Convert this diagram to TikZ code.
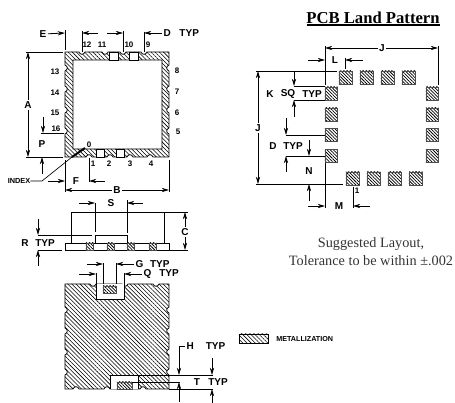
\documentclass[tikz,border=0pt]{standalone}
\usepackage{fontspec}
\setmainfont{Liberation Serif}
\setsansfont{Liberation Sans}
\usetikzlibrary{arrows.meta,patterns.meta}
\tikzset{
  outline/.style={draw=black,line width=0.6pt},
  metal/.style={outline,pattern={Lines[angle=-45,distance=2.2pt,line width=0.42pt]}},
  pad/.style={draw=black!70,line width=0.5pt,pattern={Lines[angle=-45,distance=1.7pt,line width=0.55pt]}},
  extline/.style={line width=0.5pt},
  dimline/.style={line width=0.6pt,-{Stealth[length=5.5pt,width=3.2pt]}},
  lab/.style={font=\sffamily\bfseries\fontsize{7.5}{7.5}\selectfont,inner sep=1pt},
  num/.style={font=\sffamily\bfseries\fontsize{6}{6}\selectfont,inner sep=0pt},
}
\begin{document}
\begin{tikzpicture}[x=0.75pt,y=-0.75pt]
  \useasboundingbox (0,0) rectangle (455,403);
  % top view
  \draw[metal,even odd rule] (65,52)
    \foreach \x in {82,105,123,144} { -- (\x-3,52) .. controls (\x-2,55) and (\x+2,55) .. (\x+3,52) } -- (169,52)
    \foreach \y in {68,89,110,131} { -- (169,\y-3) .. controls (166,\y-2) and (166,\y+2) .. (169,\y+3) } -- (169,157)
    \foreach \x in {150,130,110,89} { -- (\x+3,157) .. controls (\x+2,154) and (\x-2,154) .. (\x-3,157) } -- (65,157)
    \foreach \y in {131,110,89,68} { -- (65,\y+3) .. controls (68,\y+2) and (68,\y-2) .. (65,\y-3) } -- cycle
    (73,60) rectangle (162,149);
  \foreach \x in {109,129} \draw[outline,fill=white] (\x,52) rectangle ++(9,8);
  \foreach \x in {96,116} \draw[outline,fill=white] (\x,149) rectangle ++(8,8);
  \node[num] (n12) at (87,45) {12};
  \node[num] (n11) at (102,45) {11};
  \node[num] (n10) at (129,45) {10};
  \node[num] (n9) at (148,45) {9};
  \node[num] (n13) at (55,72) {13};
  \node[num] (n14) at (55,93) {14};
  \node[num] (n15) at (55,113) {15};
  \node[num] (n16) at (56,129) {16};
  \node[num] (n8) at (177,71) {8};
  \node[num] (n7) at (177,92) {7};
  \node[num] (n6) at (177,113) {6};
  \node[num] (n5) at (178,132) {5};
  \node[num] (n1) at (93,164) {1};
  \node[num] (n2) at (109,164) {2};
  \node[num] (n3) at (130,164) {3};
  \node[num] (n4) at (151,164) {4};
  \node[num] (n0) at (89,145) {0};
  \node[lab] (labE) at (43,34) {E};
  \node[lab,anchor=west] (labD) at (162,33) {D\hspace{6.5pt}TYP};
  \node[lab] (labA) at (28,105) {A};
  \node[lab] (labP) at (42,144) {P};
  \node[lab] (labF) at (76,181) {F};
  \node[lab] (labB) at (117,190) {B};
  \node[num,font=\sffamily\bfseries\fontsize{5.5}{5.5}\selectfont] (labIndex) at (19,181) {INDEX};
  \draw[extline] (65,30) -- (65,50) (82,31) -- (82,52) (123,31) -- (123,52) (144,32) -- (144,52);
  \draw[extline] (26,52) -- (63,52) (26,157) -- (63,157) (41,133) -- (64,133);
  \draw[extline] (65,160) -- (65,192) (89,158) -- (89,182) (169,160) -- (169,192);
  \draw[dimline] (labE) -- (65,33);
  \draw[dimline] (98,33) -- (82,33);
  \draw[dimline] (107,33) -- (123,33);
  \draw[dimline] (labD) -- (144,33);
  \draw[dimline] (labA) -- (28,52);
  \draw[dimline] (labA) -- (28,157);
  \draw[dimline] (43,117) -- (43,133);
  \draw[dimline] (42,174) -- (42,157);
  \draw[dimline] (48,181) -- (65,181);
  \draw[dimline] (105,181) -- (89,181);
  \draw[dimline] (labB) -- (65,190);
  \draw[dimline] (labB) -- (169,190);
  \draw[extline] (labIndex) -- (42,181) -- (72,157);
  \draw[line width=1.5pt] (72,157) -- (85,148);
  % side view
  \draw[outline] (71,243) -- (71,212) -- (164,212) -- (164,243);
  \draw[outline] (95,243) -- (95,235) -- (127,235) -- (127,243);
  \draw[outline] (65,243) rectangle (169,250);
  \foreach \x in {86,107,127,149} \draw[pad] (\x,243) rectangle ++(7.5,7);
  \node[lab] (labS) at (111,203) {S};
  \node[lab] (labC) at (185,232) {C};
  \node[lab] (labR) at (25,243) {R};
  \node[lab] (labRt) at (45,243) {TYP};
  \draw[extline] (95,203) -- (95,232) (127,200) -- (127,233);
  \draw[extline] (165,212) -- (188,212) (170,250) -- (188,250);
  \draw[extline] (38,235) -- (92,235) (38,250) -- (62,250);
  \draw[dimline] (79,203) -- (95,203);
  \draw[dimline] (143,203) -- (127,203);
  \draw[dimline] (labC) -- (185,212);
  \draw[dimline] (labC) -- (185,250);
  \draw[dimline] (38,219) -- (38,235);
  \draw[dimline] (38,266) -- (38,250);
  % bottom view
  \draw[metal] (65,284)
    \foreach \x in {93,125,156} { -- (\x-3,284) .. controls (\x-2,287) and (\x+2,287) .. (\x+3,284) } -- (169,284)
    \foreach \y in {310,331,352,372} { -- (169,\y-3) .. controls (166,\y-2) and (166,\y+2) .. (169,\y+3) } -- (169,389)
    \foreach \x in {143,107,76} { -- (\x+3,389) .. controls (\x+2,386) and (\x-2,386) .. (\x-3,389) } -- (65,389)
    \foreach \y in {372,352,331,310} { -- (65,\y+3) .. controls (68,\y+2) and (68,\y-2) .. (65,\y-3) } -- cycle;
  \draw[outline,fill=white] (96,284) -- (96,299) -- (124,299) -- (124,284);
  \draw[pad] (103,286) rectangle (116,293);
  \draw[outline,fill=white] (110,389) -- (110,375) -- (138,375) -- (138,389);
  \draw[pad] (117,382) rectangle (132,389);
  \node[lab,anchor=west] (labG) at (134,264) {G\hspace{5pt}TYP};
  \node[lab,anchor=west] (labQ) at (142,274) {Q\hspace{6pt}TYP};
  \node[lab,anchor=west] (labH) at (185,346) {H\hspace{9pt}TYP};
  \node[lab] (labT) at (197,382) {T};
  \node[lab] (labTt) at (218,382) {TYP};
  \draw[extline] (103,263) -- (103,284) (116,263) -- (116,284) (96,273) -- (96,284) (124,273) -- (124,284);
  \draw[extline] (138,375) -- (213,375) (132,382) -- (180,382) (169,389) -- (213,389);
  \draw[dimline] (87,264) -- (103,264);
  \draw[dimline] (labG) -- (116,264);
  \draw[dimline] (79,274) -- (96,274);
  \draw[dimline] (labQ) -- (124,274);
  \draw[dimline] (labH) -| (179,375);
  \draw[dimline] (179,402) -- (179,382);
  \draw[dimline] (212,358) -- (212,375);
  \draw[dimline] (212,403) -- (212,389);
  % legend
  \draw[metal] (239,334) rectangle (268,343);
  \node[num,font=\sffamily\bfseries\fontsize{5.4}{5.4}\selectfont,anchor=west] (labMetal) at (276,339) {METALLIZATION};
  % land pattern
  \node[font=\bfseries\fontsize{12.5}{12.5}\selectfont,inner sep=0pt] (title) at (373,18) {PCB Land Pattern};
  \draw[line width=1pt] (307,25) -- (440,25);
  \foreach \x in {339,360,381,402} \draw[pad] (\x,71) rectangle ++(13.5,13.5);
  \foreach \x in {346,367,388,409} \draw[pad] (\x,172) rectangle ++(13.5,13.5);
  \foreach \y in {87,108,128.5,149.5} {
    \draw[pad] (325,\y) rectangle ++(12.5,13);
    \draw[pad] (426,\y) rectangle ++(12.5,13);
  }
  \node[lab] (labJt) at (382,48) {J};
  \node[lab] (labL) at (335,60) {L};
  \node[lab] (labJl) at (258,128) {J};
  \node[lab] (labK) at (270,94) {K};
  \node[lab] (labSq) at (288,94) {SQ};
  \node[lab] (labKt) at (312,94) {TYP};
  \node[lab] (labDl) at (273,146) {D};
  \node[lab] (labDt) at (293,146) {TYP};
  \node[lab] (labN) at (309,171) {N};
  \node[lab] (labM) at (339,206) {M};
  \node[num] (pin1) at (357,191) {1};
  \draw[extline] (325,46) -- (325,85) (325,163) -- (325,208) (438,46) -- (438,85) (345,58) -- (345,69) (353,187) -- (353,208);
  \draw[extline] (256,71) -- (337,71) (256,184) -- (343,184);
  \draw[extline] (294,86) -- (325,86) (294,100) -- (325,100);
  \draw[extline] (286,135) -- (325,135) (286,156) -- (325,156);
  \draw[dimline] (labJt) -- (325,48);
  \draw[dimline] (labJt) -- (438,48);
  \draw[dimline] (308,60) -- (325,60);
  \draw[dimline] (363,60) -- (345,60);
  \draw[dimline] (labJl) -- (258,71);
  \draw[dimline] (labJl) -- (258,184);
  \draw[dimline] (294,71) -- (294,86);
  \draw[dimline] (294,117) -- (294,100);
  \draw[dimline] (286,118) -- (286,135);
  \draw[dimline] (286,172) -- (286,156);
  \draw[dimline] (309,140) -- (309,156);
  \draw[dimline] (309,201) -- (309,184);
  \draw[dimline] (308,206) -- (325,206);
  \draw[dimline] (370,206) -- (353,206);
  % note
  \node[font=\fontsize{10.7}{10.7}\selectfont,text=black!80,inner sep=0pt] (note1) at (371,244) {Suggested Layout,};
  \node[font=\fontsize{10.7}{10.7}\selectfont,text=black!80,inner sep=0pt] (note2) at (371,261) {Tolerance to be within ±.002};
\end{tikzpicture}
\end{document}
